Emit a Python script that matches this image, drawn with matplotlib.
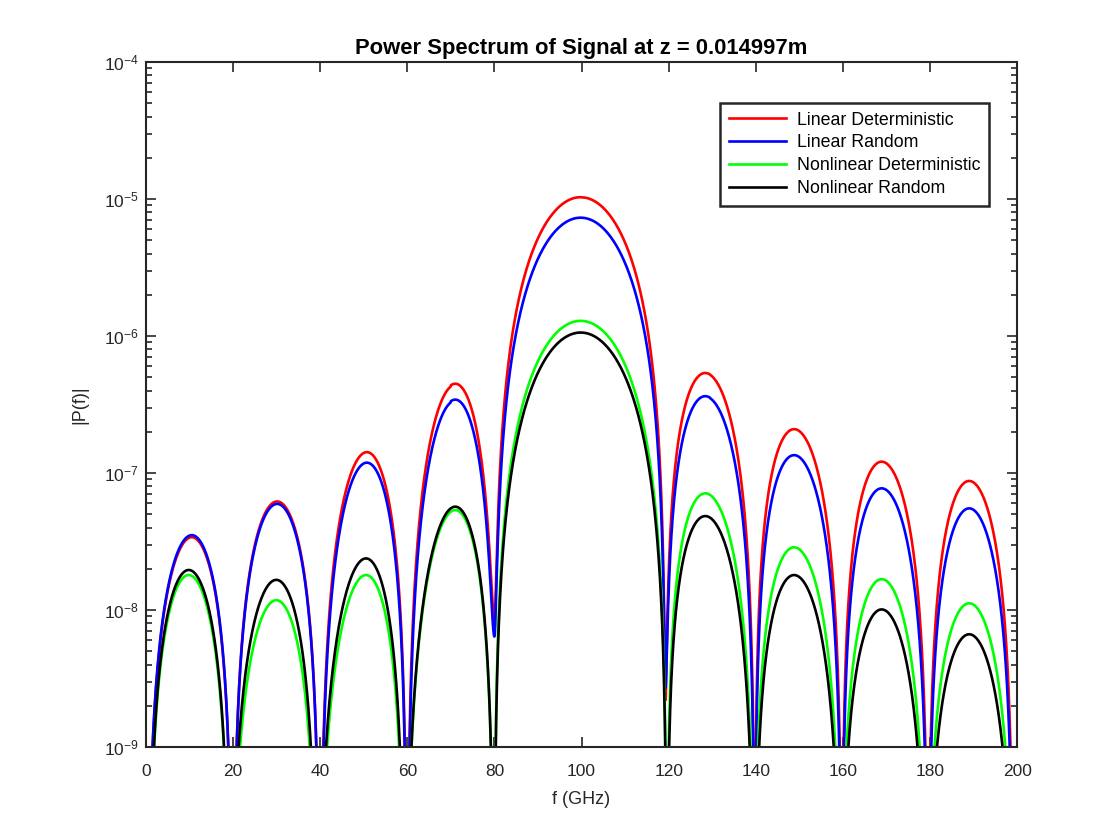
import numpy as np
import matplotlib
matplotlib.use("Agg")
import matplotlib.pyplot as plt
from matplotlib.ticker import FixedLocator, FuncFormatter, LogLocator, NullFormatter

# ---------------- data ----------------
series_labels = ["Linear Deterministic", "Linear Random",
                 "Nonlinear Deterministic", "Nonlinear Random"]
series_colors = ["#ff0000", "#0000ff", "#00ff00", "#000000"]

# null (zero) positions of the lobes, GHz
nulls_linear = [0.2, 19.9, 39.9, 59.9, 80.0, 119.3, 139.8, 159.8, 179.6, 199.2]
nulls_nonlinear = [0.5, 19.3, 39.3, 59.4, 79.9, 119.6, 139.7, 159.6, 179.3, 199.3]

# lobe peak positions, GHz
peaks_f_linear = [10.5, 30.1, 50.7, 71.0, 99.8, 128.4, 148.8, 168.9, 189.0]
peaks_f_nonlinear = [9.8, 29.9, 50.5, 71.0, 99.8, 128.4, 148.8, 168.9, 189.0]

# lobe peak values |P(f)|
peaks_lin_det = [3.4e-8, 6.2e-8, 1.42e-7, 4.4e-7, 1.03e-5, 5.35e-7, 2.09e-7, 1.21e-7, 8.75e-8]
peaks_lin_rand = [3.52e-8, 5.95e-8, 1.19e-7, 3.37e-7, 7.3e-6, 3.61e-7, 1.35e-7, 7.73e-8, 5.52e-8]
peaks_nl_det = [1.8e-8, 1.18e-8, 1.8e-8, 5.37e-8, 1.29e-6, 7.11e-8, 2.87e-8, 1.68e-8, 1.12e-8]
peaks_nl_rand = [1.96e-8, 1.66e-8, 2.38e-8, 5.68e-8, 1.06e-6, 4.85e-8, 1.8e-8, 1.01e-8, 6.65e-9]

# residual value at each null (0 = goes below the axis floor)
dips_lin_det = [0, 0, 0, 0, 8.5e-9, 2.2e-9, 0, 0, 0, 0]
dips_lin_rand = [0, 0, 0, 0, 6.4e-9, 2.7e-9, 0, 0, 0, 0]
dips_nl_det = [0, 0, 0, 0, 0, 0, 0, 0, 0, 0]
dips_nl_rand = [0, 0, 0, 0, 0, 0, 0, 0, 0, 0]

x_ticks = [0, 20, 40, 60, 80, 100, 120, 140, 160, 180, 200]
y_ticks = [1e-9, 1e-8, 1e-7, 1e-6, 1e-5, 1e-4]

series = [
    (peaks_lin_det, dips_lin_det, nulls_linear, peaks_f_linear),
    (peaks_lin_rand, dips_lin_rand, nulls_linear, peaks_f_linear),
    (peaks_nl_det, dips_nl_det, nulls_nonlinear, peaks_f_nonlinear),
    (peaks_nl_rand, dips_nl_rand, nulls_nonlinear, peaks_f_nonlinear),
]


def build_curve(peaks, dips, nulls, peak_pos):
    f_all, p_all = [], []
    for i in range(len(peaks)):
        a, b = nulls[i], nulls[i + 1]
        f = np.linspace(a, b, 400)
        t = (f - a) / (b - a)
        tp = (peak_pos[i] - a) / (b - a)
        g = np.log(0.5) / np.log(tp)
        w = np.clip(t, 0, 1) ** g
        p = peaks[i] * np.sin(np.pi * w) ** 2
        p = p + np.where(t < 0.5, dips[i], dips[i + 1])
        f_all.append(f)
        p_all.append(p)
    f = np.concatenate(f_all)
    p = np.concatenate(p_all)
    return f, np.maximum(p, 1e-14)


plt.rcParams['font.family'] = ['Liberation Sans', 'DejaVu Sans']
fig = plt.figure(figsize=(11.2, 8.4), dpi=100)
ax = fig.add_axes([0.1304, 0.1107, 0.7777, 0.8155])

for (pk, dp, nl, pf), col, lab in zip(series, series_colors, series_labels):
    f, p = build_curve(pk, dp, nl, pf)
    ax.plot(f, p, color=col, lw=1.9, label=lab)

ax.set_yscale('log')
ax.set_xlim(0, 200)
ax.set_ylim(1e-9, 1e-4)

ax_col = '#262626'
ax.xaxis.set_major_locator(FixedLocator(x_ticks))
ax.yaxis.set_major_locator(FixedLocator(y_ticks))
ax.yaxis.set_minor_locator(LogLocator(base=10, subs=np.arange(2, 10)))
ax.yaxis.set_minor_formatter(NullFormatter())
ax.yaxis.set_major_formatter(FuncFormatter(
    lambda v, pos: r'$\mathregular{10^{%d}}$' % int(round(np.log10(v)))))

ax.tick_params(which='both', direction='in', top=True, right=True,
               colors=ax_col, labelcolor=ax_col, labelsize=12.5, width=1.2)
ax.tick_params(which='major', length=7)
ax.tick_params(which='minor', length=4)
ax.tick_params(axis='x', pad=12)
ax.tick_params(axis='y', pad=5)
for s in ax.spines.values():
    s.set_color(ax_col)
    s.set_linewidth(1.5)

ax.set_xlabel('f (GHz)', fontsize=13, color=ax_col, labelpad=9)
ax.set_ylabel('|P(f)|', fontsize=13, color=ax_col, labelpad=11)
ax.set_title('Power Spectrum of Signal at z = 0.014997m', fontsize=15.8,
             fontweight='bold', color='black', pad=6)

leg = ax.legend(loc='upper right', bbox_to_anchor=(0.968, 0.9406),
                borderaxespad=0, fontsize=12.8, frameon=True, fancybox=False,
                handlelength=3.2, handletextpad=0.6, labelspacing=0.33,
                borderpad=0.5)
leg.get_frame().set_edgecolor(ax_col)
leg.get_frame().set_linewidth(1.8)
leg.get_frame().set_alpha(1)

fig.savefig('out.png', dpi=100, facecolor='white')
